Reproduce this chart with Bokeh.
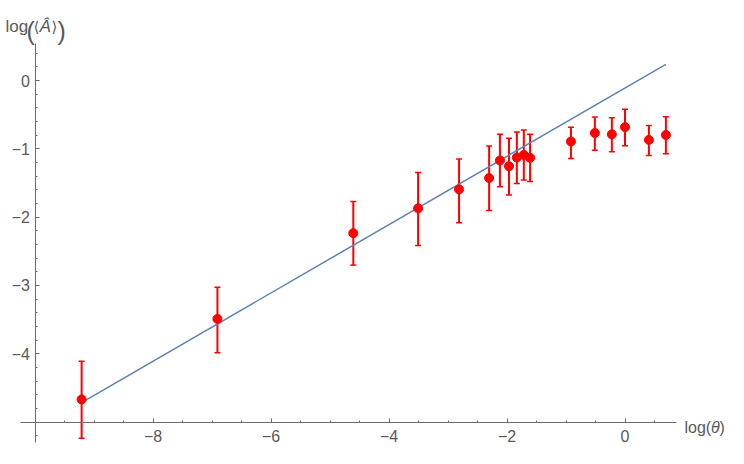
from bokeh.plotting import figure
from bokeh.models import ColumnDataSource, Whisker, TeeHead, FixedTicker, Range1d, Label
from bokeh.embed import file_html
from bokeh.resources import INLINE

# ---- data ----
log_theta = [-9.210, -6.908, -4.605, -3.507, -2.813, -2.303, -2.120, -1.966, -1.833,
             -1.715, -1.609, -0.916, -0.511, -0.223, 0.000, 0.405, 0.693]
log_A = [-4.670, -3.491, -2.235, -1.872, -1.594, -1.428, -1.170, -1.256, -1.128,
         -1.089, -1.132, -0.893, -0.769, -0.788, -0.683, -0.870, -0.798]
log_A_upper = [-4.112, -3.027, -1.772, -1.347, -1.150, -0.960, -0.788, -0.845, -0.755,
               -0.726, -0.788, -0.683, -0.534, -0.544, -0.420, -0.659, -0.530]
log_A_lower = [-5.239, -3.987, -2.703, -2.417, -2.082, -1.905, -1.557, -1.676, -1.509,
               -1.457, -1.479, -1.142, -1.021, -1.042, -0.956, -1.099, -1.074]
fit_x = [-9.210, 0.693]
fit_y = [-4.715, 0.237]

x_major = [-8, -6, -4, -2, 0]
x_minor = [-9.5, -9, -8.5, -7.5, -7, -6.5, -5.5, -5, -4.5, -3.5, -3, -2.5,
           -1.5, -1, -0.5, 0.5]
y_major = [-4, -3, -2, -1, 0]
y_minor = [-5.2, -4.8, -4.6, -4.4, -4.2, -3.8, -3.6, -3.4, -3.2, -2.8, -2.6, -2.4,
           -2.2, -1.8, -1.6, -1.4, -1.2, -0.8, -0.6, -0.4, -0.2, 0.2, 0.4]
x_tick_labels = {-8: "\u22128", -6: "\u22126", -4: "\u22124", -2: "\u22122", 0: "0"}
y_tick_labels = {-4: "\u22124", -3: "\u22123", -2: "\u22122", -1: "\u22121", 0: "0"}

# ---- layout constants ----
W, H = 728, 448
X0_PX, X_SCALE = 624.5, 59.0    # canvas px of x=0, px per unit
Y0_PX, Y_SCALE = 80.0, 68.3     # canvas px of y=0, px per unit
FONT = "Liberation Sans"
AXIS_COLOR = "#6b6b6b"
TEXT_COLOR = "#595959"


def px2data(cx, cy):
    return (cx - X0_PX) / X_SCALE, (Y0_PX - cy) / Y_SCALE


x_start, y_end = px2data(0, 0)
x_end, y_start = px2data(W, H)

p = figure(width=W, height=H, x_range=Range1d(x_start, x_end),
           y_range=Range1d(y_start, y_end), output_backend="svg",
           toolbar_location=None, min_border=0)
p.outline_line_color = None
p.grid.visible = False
p.background_fill_color = "white"

for ax, loc, bounds, major, minor, labels in (
        (p.xaxis[0], -5, (-10.24, 0.88), x_major, x_minor, x_tick_labels),
        (p.yaxis[0], -10, (-5.30, 0.54), y_major, y_minor, y_tick_labels)):
    ax.fixed_location = loc
    ax.bounds = bounds
    ax.ticker = FixedTicker(ticks=major, minor_ticks=minor)
    ax.major_label_overrides = labels
    ax.axis_line_color = AXIS_COLOR
    ax.axis_line_width = 1
    ax.major_tick_line_color = AXIS_COLOR
    ax.minor_tick_line_color = AXIS_COLOR
    ax.major_tick_in = 4
    ax.major_tick_out = 0
    ax.minor_tick_in = 2
    ax.minor_tick_out = 0
    ax.major_label_text_font = FONT
    ax.major_label_text_font_size = "16px"
    ax.major_label_text_color = TEXT_COLOR

p.xaxis.major_label_standoff = 8
p.yaxis.major_label_standoff = 5

src = ColumnDataSource(dict(x=log_theta, y=log_A, upper=log_A_upper, lower=log_A_lower))

p.line(fit_x, fit_y, line_color="#5E81B5", line_width=1.5)

whisk = Whisker(base="x", upper="upper", lower="lower", source=src,
                line_color="#ff0000", line_width=2,
                upper_head=TeeHead(size=6, line_color="#ff0000", line_width=1.5),
                lower_head=TeeHead(size=6, line_color="#ff0000", line_width=1.5))
p.add_layout(whisk)

p.scatter("x", "y", source=src, size=9, fill_color="#ff0000", line_color="#ff0000")


# ---- axis labels (Mathematica style) ----
def add_label(text, cx, cy, size="17px", style="normal", font=FONT):
    x, y = px2data(cx, cy)
    p.add_layout(Label(x=x, y=y, text=text, text_font=font, text_font_size=size,
                       text_font_style=style, text_color=TEXT_COLOR,
                       text_baseline="alphabetic", text_align="left"))


# x-axis label: log(θ)
add_label("log(", 684, 427, size="16px")
add_label("\u03b8", 710.5, 427, size="16px", style="italic")
add_label(")", 719, 427, size="16px")

# y-axis label: log(⟨Â⟩)
add_label("log", 5, 26)
add_label("(", 26, 30.5, size="25px")
add_label("\u27e8", 33, 26, font="DejaVu Sans", size="15px")
add_label("A\u0302", 39, 26, style="italic")
add_label("\u27e9", 51, 26, font="DejaVu Sans", size="15px")
add_label(")", 57, 30.5, size="25px")

open("out.html", "w").write(file_html(p, INLINE))
